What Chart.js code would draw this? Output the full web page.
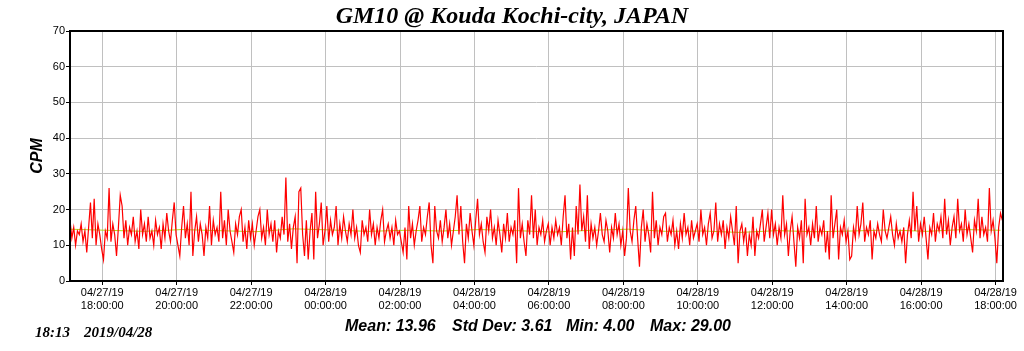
<!DOCTYPE html>
<html>
<head>
<meta charset="utf-8">
<script src="https://cdn.jsdelivr.net/npm/chart.js@4.4.1/dist/chart.umd.min.js"></script>
<style>
  html, body { margin: 0; padding: 0; background: #fff; overflow: hidden; }
  #wrap { position: relative; width: 1024px; height: 351px; }
  #result-chart { position: absolute; left: 0; top: 0; }
  .txt { position: absolute; white-space: pre; color: #000; line-height: normal; }
  .serif { font-family: "Liberation Serif", "Times New Roman", serif; font-weight: bold; font-style: italic; }
  .sans { font-family: "Liberation Sans", Arial, sans-serif; font-weight: bold; font-style: italic; }
</style>
</head>
<body>
<div id="wrap">
  <canvas id="result-chart" width="1024" height="351"></canvas>
  <div class="txt serif" id="title" style="left:0;width:1024px;text-align:center;top:2px;font-size:24px;"></div>
  <div class="txt serif" style="left:35px;top:324px;font-size:15px;">18:13</div>
  <div class="txt serif" style="left:84px;top:324px;font-size:15px;">2019/04/28</div>
  <div class="txt sans" style="left:345px;top:317px;font-size:16px;">Mean: 13.96</div>
  <div class="txt sans" style="left:452px;top:317px;font-size:16px;">Std Dev: 3.61</div>
  <div class="txt sans" style="left:566px;top:317px;font-size:16px;">Min: 4.00</div>
  <div class="txt sans" style="left:650px;top:317px;font-size:16px;">Max: 29.00</div>
</div>
<script>
// minutes relative to 04/27/19 18:00:00
const startMinute = -52;
const stepMinutes = 3;
const endMinute = 1452;

const chartTitle = "GM10 @ Kouda Kochi-city, JAPAN";

// counts per minute, one reading every 3 minutes
const cpm = [
  17, 12, 15, 10, 14, 13, 16, 11, 14, 8, 15, 22, 12, 23, 10, 16, 13, 9, 6, 14,
  12, 26, 11, 16, 13, 7, 15, 24, 21, 12, 17, 10, 15, 13, 18, 11, 14, 9, 20, 13,
  16, 11, 18, 12, 14, 10, 17, 13, 15, 9, 16, 12, 19, 14, 11, 17, 22, 13, 10, 7,
  15, 21, 12, 16, 10, 25, 7, 14, 18, 11, 16, 13, 7, 15, 12, 21, 10, 17, 13, 15,
  11, 25, 12, 17, 10, 20, 14, 11, 8, 16, 13, 18, 20, 11, 15, 9, 17, 12, 16, 10,
  14, 18, 20, 12, 15, 10, 20, 13, 16, 11, 17, 8, 14, 12, 18, 13, 29, 11, 16, 9,
  15, 18, 5, 25, 26, 13, 7, 17, 6, 14, 19, 6, 25, 12, 16, 22, 10, 14, 21, 11,
  17, 13, 15, 21, 10, 16, 12, 18, 14, 11, 16, 13, 20, 12, 15, 10, 8, 17, 13, 15,
  11, 20, 13, 16, 10, 15, 12, 17, 20, 11, 14, 16, 12, 15, 10, 17, 13, 14, 11, 8,
  15, 6, 21, 12, 16, 10, 14, 17, 21, 11, 15, 13, 18, 22, 10, 5, 21, 14, 12, 17,
  11, 15, 20, 12, 16, 10, 14, 18, 24, 13, 21, 11, 5, 16, 12, 19, 14, 10, 17, 23,
  13, 16, 11, 8, 18, 14, 20, 12, 15, 10, 17, 13, 8, 16, 12, 19, 11, 15, 13, 17,
  5, 26, 12, 16, 11, 7, 17, 13, 24, 12, 20, 10, 15, 13, 17, 11, 14, 16, 10, 15,
  12, 17, 13, 15, 10, 18, 24, 12, 16, 6, 15, 7, 21, 13, 27, 14, 18, 11, 24, 9,
  16, 12, 15, 10, 14, 19, 13, 11, 17, 14, 8, 15, 12, 19, 13, 16, 10, 14, 7, 12,
  26, 14, 11, 17, 21, 12, 4, 15, 20, 11, 16, 13, 8, 25, 12, 17, 10, 15, 13, 18,
  19, 11, 15, 13, 17, 10, 14, 9, 16, 12, 19, 13, 15, 10, 17, 12, 14, 16, 11, 20,
  13, 15, 10, 16, 19, 12, 14, 22, 11, 16, 13, 17, 9, 15, 12, 18, 14, 10, 21, 5,
  14, 16, 11, 15, 7, 13, 10, 18, 7, 14, 12, 16, 20, 11, 15, 19, 12, 20, 13, 16,
  10, 15, 12, 24, 13, 16, 7, 14, 18, 11, 4, 15, 12, 17, 5, 23, 13, 15, 10, 16,
  12, 21, 11, 15, 13, 17, 8, 14, 6, 24, 12, 16, 20, 6, 15, 13, 17, 11, 14, 6,
  7, 15, 12, 21, 13, 16, 22, 11, 15, 13, 17, 6, 14, 12, 16, 13, 11, 20, 14, 12,
  15, 18, 13, 10, 16, 12, 14, 11, 15, 5, 13, 17, 12, 25, 14, 21, 11, 16, 13, 18,
  12, 6, 15, 13, 19, 11, 16, 14, 18, 12, 23, 13, 17, 10, 15, 18, 12, 23, 14, 16,
  11, 20, 13, 16, 12, 8, 17, 14, 23, 12, 18, 13, 15, 11, 26, 14, 17, 12, 5, 15,
  19, 17
];

// smoothed (hourly) level drawn under the raw trace
const avgStep = 60;
const avgCpm = [
  14.5, 14.2, 13.9, 14.4, 14.1, 13.8, 14.6, 14.3, 13.9, 14.2, 14.0, 14.4, 14.1,
  13.7, 14.2, 14.5, 13.9, 14.0, 13.6, 14.1, 13.8, 14.0, 14.3, 13.9, 14.4, 14.2
];

const tickMinutes = [0, 120, 240, 360, 480, 600, 720, 840, 960, 1080, 1200, 1320, 1440];
const xTickLabels = [
  ["04/27/19", "18:00:00"], ["04/27/19", "20:00:00"], ["04/27/19", "22:00:00"],
  ["04/28/19", "00:00:00"], ["04/28/19", "02:00:00"], ["04/28/19", "04:00:00"],
  ["04/28/19", "06:00:00"], ["04/28/19", "08:00:00"], ["04/28/19", "10:00:00"],
  ["04/28/19", "12:00:00"], ["04/28/19", "14:00:00"], ["04/28/19", "16:00:00"],
  ["04/28/19", "18:00:00"]
];

document.getElementById("title").textContent = chartTitle;

const to_points = (values, step) =>
  values.map((v, i) => ({ x: startMinute + i * step, y: v }));

const frame_plugin = {
  id: "frame",
  afterDraw: (chart) => {
    const { ctx, chartArea } = chart;
    ctx.save();
    ctx.strokeStyle = "#000";
    ctx.lineWidth = 2;
    ctx.strokeRect(chartArea.left, chartArea.top,
      chartArea.right - chartArea.left, chartArea.bottom - chartArea.top);
    ctx.restore();
  },
};

const tickFont = { family: "'Liberation Sans', Arial, sans-serif", size: 11 };

const config = {
  type: "line",
  data: {
    datasets: [
      {
        label: "CPM",
        data: to_points(cpm, stepMinutes),
        borderColor: "#ff0000",
        borderWidth: 1.2,
        pointRadius: 0,
        tension: 0,
        order: 0,
      },
      {
        label: "Average",
        data: to_points(avgCpm, avgStep),
        borderColor: "rgba(170, 215, 0, 0.9)",
        borderWidth: 1,
        pointRadius: 0,
        tension: 0,
        order: 1,
      },
    ],
  },
  options: {
    responsive: false,
    devicePixelRatio: 1,
    animation: false,
    events: [],
    layout: { padding: { top: 31, right: 21, bottom: 0, left: 0 } },
    plugins: {
      legend: { display: false },
      tooltip: { enabled: false },
      title: { display: false },
    },
    scales: {
      x: {
        type: "linear",
        min: startMinute,
        max: endMinute,
        afterBuildTicks: (scale) => {
          scale.ticks = tickMinutes.map((v) => ({ value: v }));
        },
        afterFit: (scale) => {
          scale.height = 70;
        },
        border: { display: false },
        grid: {
          color: "#c0c0c0",
          lineWidth: 1,
          tickLength: 4,
          tickColor: "#000",
        },
        ticks: {
          autoSkip: false,
          maxRotation: 0,
          padding: 1,
          color: "#000",
          font: { ...tickFont, lineHeight: 1.22 },
          callback: (value, index) => xTickLabels[index],
        },
      },
      y: {
        min: 0,
        max: 70,
        afterFit: (scale) => {
          scale.width = 70;
        },
        border: { display: false },
        grid: {
          color: "#c0c0c0",
          lineWidth: 1,
          tickLength: 4,
          tickColor: "#000",
        },
        ticks: {
          stepSize: 10,
          padding: 1,
          color: "#000",
          font: tickFont,
        },
        title: {
          display: true,
          text: "CPM",
          color: "#000",
          padding: { top: 28, bottom: 0 },
          font: {
            family: "'Liberation Sans', Arial, sans-serif",
            size: 16,
            weight: "bold",
            style: "italic",
          },
        },
      },
    },
  },
  plugins: [frame_plugin],
};

const resultChart = new Chart(document.getElementById("result-chart"), config);
</script>
</body>
</html>
